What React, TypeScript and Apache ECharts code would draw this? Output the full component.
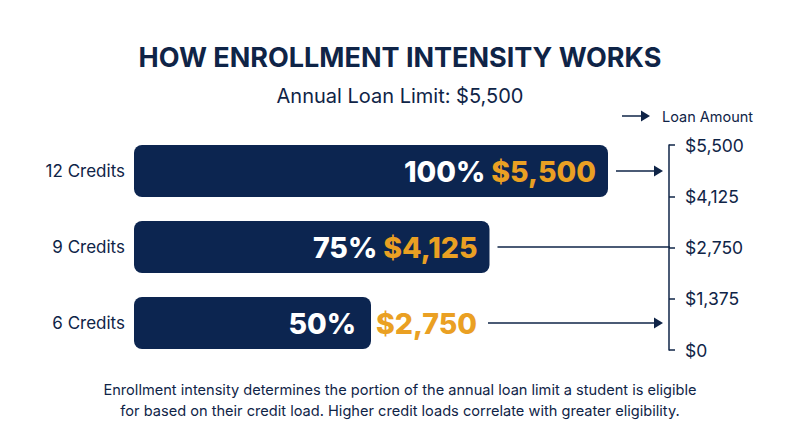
import React, { useEffect, useRef } from "react";
import * as echarts from "echarts";

const title = "HOW ENROLLMENT INTENSITY WORKS";
const subtitle = "Annual Loan Limit: $5,500";
const legendLabel = "Loan Amount";
const categories = ["12 Credits", "9 Credits", "6 Credits"];
const percents = [100, 75, 50];
const amounts = [5500, 4125, 2750];
const annualLimit = 5500;
const axisInterval = 1375;
const footerLines = [
  "Enrollment intensity determines the portion of the annual loan limit a student is eligible",
  "for based on their credit load. Higher credit loads correlate with greater eligibility.",
];

const NAVY = "#0c2550";
const TEXT = "#0f2447";
const ORANGE = "#eaa023";
const FONT = "Inter, 'Noto Sans', sans-serif";
const AXIS_X = 670;
const OUTSIDE_SHIFT = 117;

const fmt = (v: number) => "$" + v.toLocaleString("en-US");

export default function App() {
  const ref = useRef<HTMLDivElement>(null);
  useEffect(() => {
    if (!ref.current) return;
    const chart = echarts.init(ref.current, null, { renderer: "svg" });
    const option: any = {
      animation: false,
      backgroundColor: "#ffffff",
      textStyle: { fontFamily: FONT },
      title: [
        {
          text: title,
          left: "center",
          top: 39,
          textStyle: { fontFamily: FONT, fontSize: 27, fontWeight: 700, color: TEXT },
        },
        {
          text: subtitle,
          left: "center",
          top: 81,
          textStyle: { fontFamily: FONT, fontSize: 20, fontWeight: 400, color: TEXT },
        },
      ],
      grid: [
        { left: 134, width: 474, top: 133, height: 228 },
        { left: AXIS_X - 1, width: 1, top: 145, height: 205 },
      ],
      xAxis: [
        { gridIndex: 0, type: "value", min: 0, max: annualLimit, show: false },
        { gridIndex: 1, type: "value", show: false },
      ],
      yAxis: [
        {
          gridIndex: 0,
          type: "category",
          data: categories,
          inverse: true,
          axisLine: { show: false },
          axisTick: { show: false },
          axisLabel: { fontFamily: FONT, fontSize: 17, color: TEXT, margin: 9 },
        },
        {
          gridIndex: 1,
          type: "value",
          position: "right",
          min: 0,
          max: annualLimit,
          interval: axisInterval,
          splitLine: { show: false },
          axisLine: { show: true, lineStyle: { color: TEXT, width: 1.5 } },
          axisTick: { show: true, length: 6, lineStyle: { color: TEXT, width: 1.5 } },
          axisLabel: { fontFamily: FONT, fontSize: 17.5, color: TEXT, margin: 15, formatter: (v: number) => fmt(v) },
        },
      ],
      series: [
        {
          type: "bar",
          xAxisIndex: 0,
          yAxisIndex: 0,
          barWidth: 52,
          itemStyle: { color: NAVY, borderRadius: 8 },
          data: amounts.map((v) => {
            const inside = v / annualLimit > 0.6;
            return {
              value: v,
              label: inside
                ? { position: "insideRight", distance: 12 }
                : { position: "insideRight", distance: 11, offset: [OUTSIDE_SHIFT, 0] },
            };
          }),
          label: {
            show: true,
            fontFamily: FONT,
            formatter: (p: any) => {
              const i = p.dataIndex;
              const inside = amounts[i] / annualLimit > 0.6;
              return inside
                ? `{p|${percents[i]}%}{s|}{a|${fmt(amounts[i])}}`
                : `{p|${percents[i]}%}{g|}{a|${fmt(amounts[i])}}`;
            },
            rich: {
              p: { fontFamily: FONT, fontSize: 28.5, fontWeight: 800, color: "#ffffff" },
              a: { fontFamily: FONT, fontSize: 28.5, fontWeight: 800, color: ORANGE },
              s: { width: 6 },
              g: { width: 20 },
            },
          },
        },
      ],
    };
    chart.setOption(option);

    const graphics: any[] = [];
    const lineStyle = { stroke: TEXT, lineWidth: 1.5 };
    const arrow = (x: number, y: number) => ({
      type: "polygon",
      shape: { points: [[x - 9, y - 5.5], [x, y], [x - 9, y + 5.5]] },
      style: { fill: TEXT },
    });
    amounts.forEach((v, i) => {
      const xEnd = chart.convertToPixel({ xAxisIndex: 0 }, v) as number;
      const y = chart.convertToPixel({ yAxisIndex: 0 }, categories[i]) as number;
      const inside = v / annualLimit > 0.6;
      const startX = inside ? xEnd + 8 : xEnd + OUTSIDE_SHIFT;
      const withArrow = i !== 1;
      const endX = withArrow ? AXIS_X - 7 : AXIS_X;
      graphics.push({ type: "line", shape: { x1: startX, y1: y, x2: endX - (withArrow ? 4 : 0), y2: y }, style: lineStyle });
      if (withArrow) graphics.push(arrow(endX, y));
    });
    // legend
    graphics.push({ type: "line", shape: { x1: 622, y1: 116, x2: 644, y2: 116 }, style: lineStyle });
    graphics.push(arrow(650, 116));
    graphics.push({
      type: "text",
      x: 662,
      y: 116,
      style: { text: legendLabel, fontFamily: FONT, fontSize: 14.5, fill: TEXT, verticalAlign: "middle" },
    });
    // footer
    footerLines.forEach((t, i) => {
      graphics.push({
        type: "text",
        x: 400,
        y: 390 + i * 21,
        style: { text: t, fontFamily: FONT, fontSize: 14.6, fill: TEXT, align: "center", verticalAlign: "middle" },
      });
    });
    chart.setOption({ graphic: graphics });

    return () => chart.dispose();
  }, []);
  return <div ref={ref} style={{ position: "fixed", left: 0, top: 0, width: 800, height: 447 }} />;
}
